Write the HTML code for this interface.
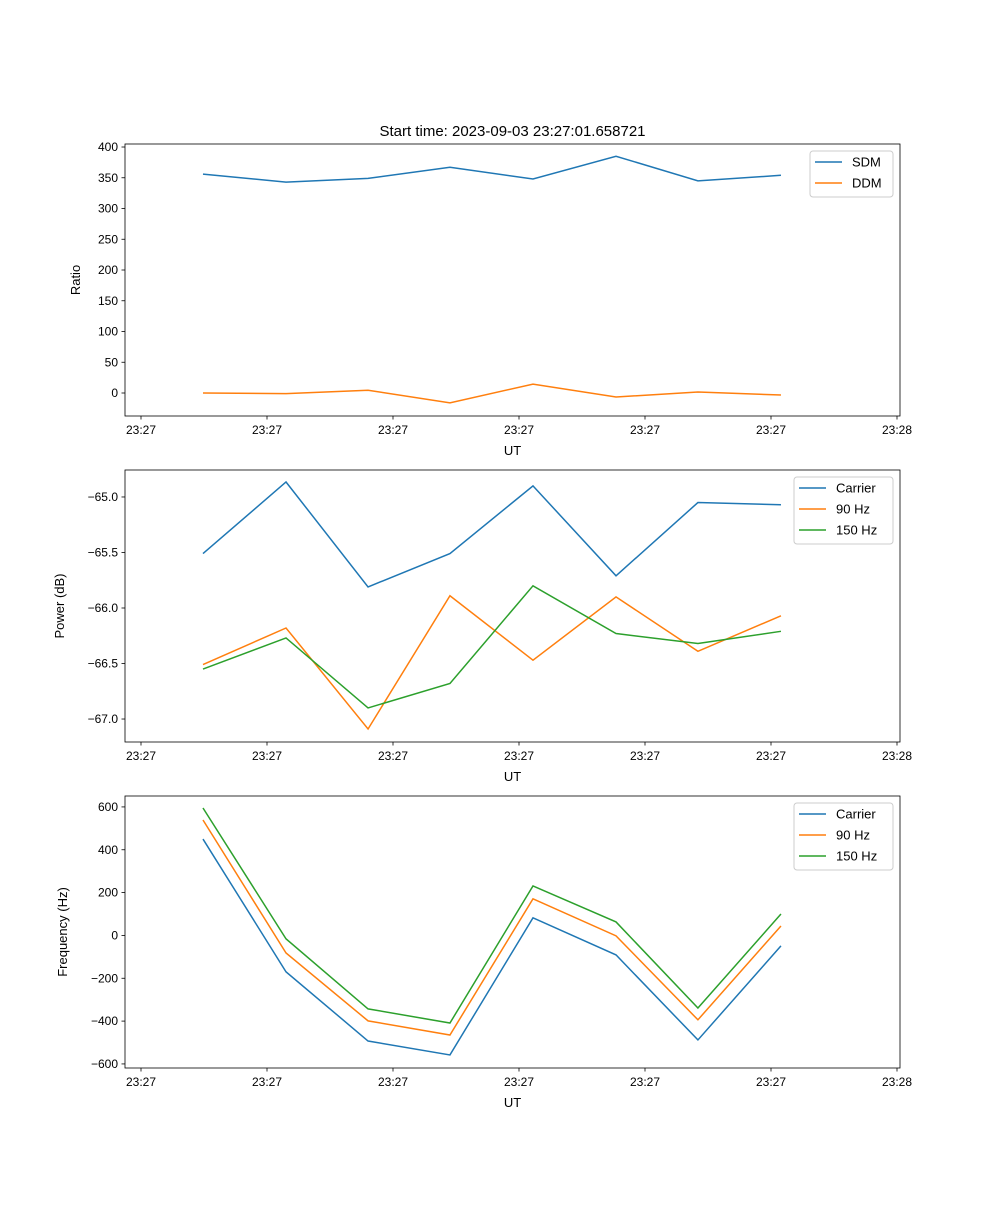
<!DOCTYPE html>
<html><head><meta charset="utf-8"><style>
body{margin:0;background:#fff}
svg{font-family:"Liberation Sans","DejaVu Sans",sans-serif}
</style></head><body>
<svg id="fig" width="1000" height="1200" xmlns="http://www.w3.org/2000/svg"></svg>
<script>
const xTickLabels=["23:27","23:27","23:27","23:27","23:27","23:27","23:28"];
const xSeconds=[4.92,11.51,18.02,24.52,31.11,37.7,44.2,50.79];
const sdm=[356,343,349,367,348,385,345,354];
const ddm=[0,-1,4.5,-16,14.5,-6.5,1.6,-3.3];
const pwrCarrier=[-65.51,-64.865,-65.81,-65.51,-64.90,-65.71,-65.05,-65.07];
const pwr90=[-66.51,-66.18,-67.09,-65.89,-66.47,-65.90,-66.39,-66.07];
const pwr150=[-66.55,-66.27,-66.90,-66.68,-65.80,-66.23,-66.32,-66.21];
const frqCarrier=[450,-170,-493,-558,82,-91,-488,-49];
const frq90=[539,-82,-399,-465,171,-2,-394,44];
const frq150=[595,-16,-343,-409,231,63,-339,100];
const ticks1=[0,50,100,150,200,250,300,350,400];
const ticks2=[-67.0,-66.5,-66.0,-65.5,-65.0];
const ticks3=[-600,-400,-200,0,200,400,600];

const svg=document.getElementById('fig');
const NS='http://www.w3.org/2000/svg';
function mk(tag,attrs,parent,text){const e=document.createElementNS(NS,tag);for(const k in attrs)e.setAttribute(k,attrs[k]);if(text!==undefined)e.textContent=text;(parent||svg).appendChild(e);return e;}
const L=125,R=900;
const xs=s=>141+s*12.6;
const C=['#1f77b4','#ff7f0e','#2ca02c'];

function panel(name,top,bottom,ymax,ymin,ticks,fmt,ylabel,series,legend,title){
  const g=mk('g',{});
  
  
  const ys=v=>top+(ymax-v)/(ymax-ymin)*(bottom-top);
  series.forEach((s,i)=>{
    const p=mk('polyline',{points:s.data.map((v,j)=>xs(xSeconds[j])+','+ys(v)).join(' '),fill:'none',stroke:C[i],'stroke-width':1.5},g);
    
    
  });
  const fr=mk('rect',{x:L,y:top,width:R-L,height:bottom-top,fill:'none',stroke:'#000','stroke-width':0.8},g);
  
  
  xTickLabels.forEach((t,i)=>{
    const x=xs(i*10);
    mk('line',{x1:x,x2:x,y1:bottom,y2:bottom+3.5,stroke:'#000','stroke-width':0.8},g);
    const tl=mk('text',{x:x,y:bottom+18,'font-size':12,'text-anchor':'middle'},g,t);
    
    
  });
  ticks.forEach(v=>{
    const y=ys(v);
    mk('line',{x1:L-3.5,x2:L,y1:y,y2:y,stroke:'#000','stroke-width':0.8},g);
    const tl=mk('text',{x:L-7,y:y+4,'font-size':12,'text-anchor':'end'},g,fmt(v));
    
    
  });
  const xl=mk('text',{x:(L+R)/2,y:bottom+39,'font-size':13,'text-anchor':'middle'},g,'UT');
  
  
  const yl=mk('text',{x:0,y:0,'font-size':13,'text-anchor':'middle',transform:`translate(${legend.ylx},${(top+bottom)/2}) rotate(-90)`},g,ylabel);
  
  
  if(title){const t=mk('text',{x:(L+R)/2,y:top-8,'font-size':15,'text-anchor':'middle'},g,title);
    
    }
  const lg=mk('g',{},g);
  
  
  const h=series.length*21+4;
  mk('rect',{x:legend.x,y:top+7,width:R-7-legend.x,height:h,fill:'#fff',stroke:'#ccc',rx:3},lg);
  series.forEach((s,i)=>{
    const y=top+18+i*21;
    mk('line',{x1:legend.x+5,x2:legend.x+32,y1:y,y2:y,stroke:C[i],'stroke-width':1.5},lg);
    const t=mk('text',{x:legend.x+42,y:y+4.5,'font-size':13},lg,s.label);
    
    
  });
}
panel('ratio-panel',144,416,404.9,-37.4,ticks1,v=>String(v),'Ratio',
  [{key:'sdm',label:'SDM',data:sdm},{key:'ddm',label:'DDM',data:ddm}],{x:810,ylx:80},'Start time: 2023-09-03 23:27:01.658721');
panel('power-panel',470,742,-64.757,-67.207,ticks2,v=>v.toFixed(1).replace('-','\u2212'),'Power (dB)',
  [{key:'carrier',label:'Carrier',data:pwrCarrier},{key:'90hz',label:'90 Hz',data:pwr90},{key:'150hz',label:'150 Hz',data:pwr150}],{x:794,ylx:64});
panel('frequency-panel',796,1068,651,-619,ticks3,v=>String(v).replace('-','\u2212'),'Frequency (Hz)',
  [{key:'carrier',label:'Carrier',data:frqCarrier},{key:'90hz',label:'90 Hz',data:frq90},{key:'150hz',label:'150 Hz',data:frq150}],{x:794,ylx:67});
</script>
</body></html>
